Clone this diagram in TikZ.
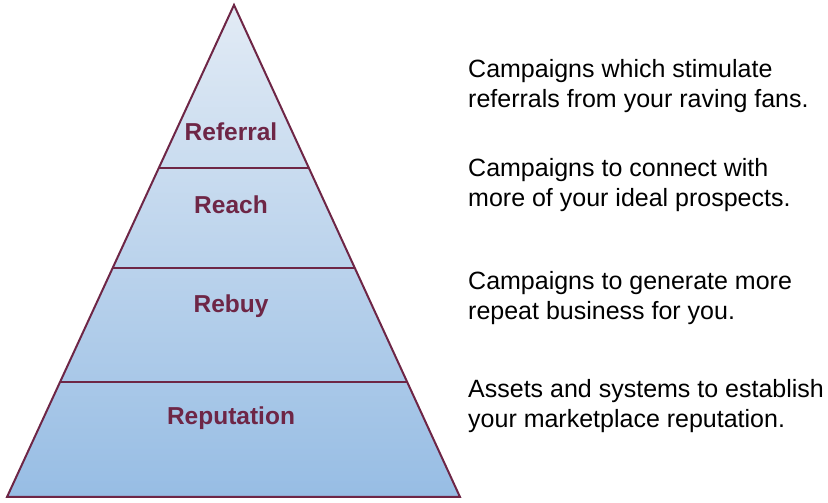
\documentclass[tikz,border=0pt]{standalone}
\usepackage{fontspec}
\setmainfont{Liberation Sans}
\begin{document}
\begin{tikzpicture}[x=1pt,y=1pt,
  edge/.style={draw=maroon,line width=2pt,line join=miter},
  lab/.style={text=maroon,font=\fontsize{24.5}{29}\selectfont\bfseries},
  desc/.style={anchor=west,align=left,inner sep=0pt,font=\fontsize{25}{30}\selectfont}]
\definecolor{maroon}{HTML}{6E2646}
\definecolor{ctop}{HTML}{E2EBF5}
\definecolor{cbot}{HTML}{97BDE4}
\useasboundingbox (0,0) rectangle (828,503);
\coordinate (A) at (234,498);
\coordinate (BL) at (7,6);
\coordinate (BR) at (460,6);
\coordinate (L1) at (158.8,335); \coordinate (R1) at (308.9,335);
\coordinate (L2) at (112.7,235); \coordinate (R2) at (354.8,235);
\coordinate (L3) at (60.1,121);  \coordinate (R3) at (407.2,121);
\shade[top color=ctop,bottom color=cbot] (A) -- (BL) -- (BR) -- cycle;
\draw[edge] (A) -- (BL) -- (BR) -- cycle;
\draw[edge] (L1) -- (R1);
\draw[edge] (L2) -- (R2);
\draw[edge] (L3) -- (R3);
\node[lab] (n1) at (231,371) {Referral};
\node[lab] (n2) at (231,298) {Reach};
\node[lab] (n3) at (231,197) {Rebuy};
\node[lab] (n4) at (231,85) {Reputation};
\node[desc] (d1) at (468,417) {Campaigns which stimulate\\referrals from your raving fans.};
\node[desc] (d2) at (468,318) {Campaigns to connect with\\more of your ideal prospects.};
\node[desc] (d3) at (468,205) {Campaigns to generate more\\repeat business for you.};
\node[desc] (d4) at (468,97) {Assets and systems to establish\\your marketplace reputation.};
\end{tikzpicture}
\end{document}
